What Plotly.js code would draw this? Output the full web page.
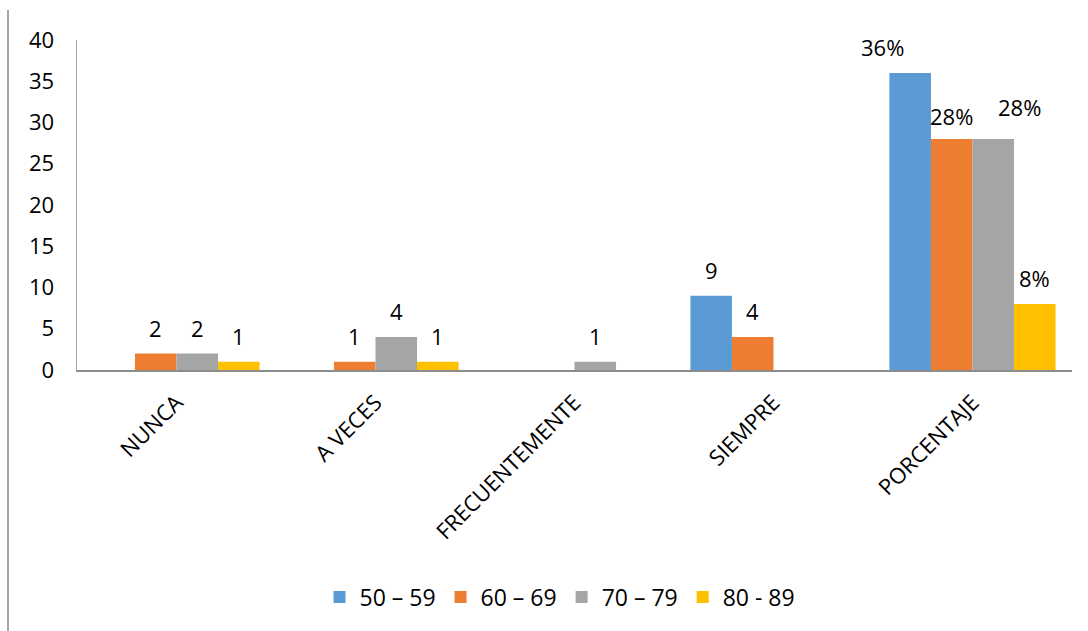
<!DOCTYPE html>
<html>
<head>
<meta charset="utf-8">
<script src="https://cdn.plot.ly/plotly-3.0.1.min.js"></script>
<style>
  html, body { margin: 0; padding: 0; background: #ffffff; }
  #chart { width: 1088px; height: 631px; }
</style>
</head>
<body>
<div id="chart"></div>
<script>
// Response categories and age groups
const categories = ["NUNCA", "A VECES", "FRECUENTEMENTE", "SIEMPRE", "PORCENTAJE"];
const seriesNames = ["50 – 59", "60 – 69", "70 – 79", "80 - 89"];

const values5059 = [0, 0, 0, 9, 36];
const values6069 = [2, 1, 0, 4, 28];
const values7079 = [2, 4, 1, 0, 28];
const values8089 = [1, 1, 0, 0, 8];

const seriesValues = [values5059, values6069, values7079, values8089];
const colors = ["#5B9BD5", "#ED7D31", "#A5A5A5", "#FFC000"];

const FONT = "'Open Sans', 'Noto Sans', sans-serif";

// Plot geometry used to centre value labels over each bar
const margin = { l: 77, r: 16, t: 40, b: 261 };
const plotWidth = 1088 - margin.l - margin.r;
const plotHeight = 631 - margin.t - margin.b;
const bargap = 0.165;
const barPx = plotWidth / categories.length * (1 - bargap) / seriesNames.length;

// Small nudges for the percentage labels
const pctNudge = [-28, 0, 26, 0];
const pctLift = [0, -3, 6, 0];

const traces = seriesValues.map((vals, i) => ({
  type: "bar",
  name: seriesNames[i],
  x: categories,
  y: vals,
  marker: { color: colors[i] },
  hoverinfo: "x+y+name"
}));

const annotations = [];
seriesValues.forEach((vals, i) => {
  vals.forEach((v, j) => {
    if (v === 0) return;
    const isPct = categories[j] === "PORCENTAJE";
    annotations.push({
      x: categories[j],
      y: v,
      xref: "x",
      yref: "y",
      text: isPct ? v + "%" : String(v),
      showarrow: false,
      xanchor: "center",
      yanchor: "middle",
      xshift: (i - 1.5) * barPx + (isPct ? pctNudge[i] : 0),
      yshift: 26 + (isPct ? pctLift[i] : 0),
      font: { family: FONT, size: 22, color: "#000000" }
    });
  });
});

const layout = {
  width: 1088,
  height: 631,
  margin: margin,
  paper_bgcolor: "#ffffff",
  plot_bgcolor: "#ffffff",
  barmode: "group",
  bargap: bargap,
  bargroupgap: 0,
  showlegend: true,
  legend: {
    orientation: "h",
    x: (560 - margin.l) / plotWidth,
    xanchor: "center",
    y: (370 - 597) / plotHeight,
    yanchor: "middle",
    font: { family: FONT, size: 23, color: "#000000" },
    itemclick: false,
    traceorder: "normal"
  },
  xaxis: {
    type: "category",
    showline: true,
    linecolor: "#8c8c8c",
    linewidth: 2,
    ticks: "",
    tickangle: -45,
    ticklabelstandoff: 9,
    tickfont: { family: FONT, size: 22, color: "#000000" },
    showgrid: false,
    zeroline: false,
    fixedrange: true
  },
  yaxis: {
    range: [0, 40],
    dtick: 5,
    tick0: 0,
    showline: true,
    linecolor: "#a6a6a6",
    linewidth: 1.5,
    ticks: "",
    ticklabelstandoff: 17,
    tickfont: { family: FONT, size: 22, color: "#000000" },
    showgrid: false,
    zeroline: false,
    fixedrange: true
  },
  annotations: annotations,
  shapes: [{
    type: "line",
    xref: "paper",
    yref: "paper",
    x0: (8 - margin.l) / plotWidth,
    x1: (8 - margin.l) / plotWidth,
    y0: (370 - 10) / plotHeight,
    y1: (370 - 631) / plotHeight,
    line: { color: "#a6a6a6", width: 2 },
    layer: "above"
  }]
};

Plotly.newPlot("chart", traces, layout, { displayModeBar: false, staticPlot: true });
</script>
</body>
</html>
